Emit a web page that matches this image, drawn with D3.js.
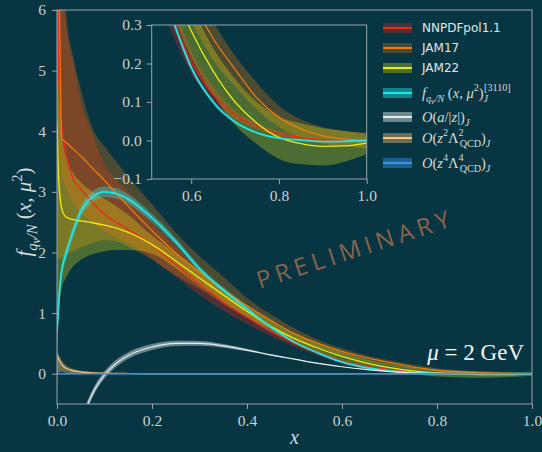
<!DOCTYPE html>
<html><head><meta charset="utf-8">
<script src="https://cdn.jsdelivr.net/npm/d3@7"></script>
<style>
html,body{margin:0;padding:0;background:#073642;}
svg{display:block}
</style></head><body>
<svg id="chart" width="542" height="452"></svg>
<script>
// ---- data: valence-quark distributions at mu = 2 GeV ----
const xGrid = [0, .003, .006, .01, .02, .035, .05, .075, .1, .125, .15, .2, .25, .3, .35, .4, .45, .5, .55, .6, .65, .7, .75, .8, .85, .9, .95, 1];

const nnpdfMid = [9, 5.1, 4.5, 4.1, 3.6, 3.2, 3.05, 2.82, 2.63, 2.5, 2.38, 2.12, 1.8, 1.48, 1.18, 0.93, 0.7, 0.5, 0.34, 0.205, 0.12, 0.066, 0.037, 0.018, 0.008, 0.002, 0, 0];
const nnpdfLo  = [5, 4.0, 3.6, 3.3, 3.05, 2.8, 2.65, 2.5, 2.35, 2.25, 2.15, 1.9, 1.6, 1.3, 1.04, 0.82, 0.62, 0.44, 0.295, 0.175, 0.1, 0.055, 0.03, 0.012, 0.004, -0.001, -0.002, 0];
const nnpdfHi  = [10, 8, 7.2, 6.5, 5.7, 5.1, 4.5, 3.95, 3.45, 3.2, 3.0, 2.5, 2.08, 1.7, 1.32, 1.03, 0.79, 0.57, 0.39, 0.235, 0.14, 0.078, 0.045, 0.024, 0.012, 0.005, 0.002, 0];

const jam17Mid = [9, 7.5, 5.5, 3.88, 3.81, 3.7, 3.59, 3.39, 3.19, 2.97, 2.76, 2.36, 1.99, 1.68, 1.38, 1.12, 0.88, 0.66, 0.5, 0.37, 0.265, 0.185, 0.11, 0.06, 0.03, 0.012, 0.004, 0];
const jam17Lo  = [1.9, 1.9, 1.9, 1.92, 1.97, 2.03, 2.08, 2.15, 2.2, 2.18, 2.1, 1.88, 1.62, 1.4, 1.15, 0.93, 0.74, 0.57, 0.43, 0.31, 0.21, 0.14, 0.08, 0.035, 0.008, -0.008, -0.015, -0.02];
const jam17Hi  = [12, 10, 9, 7.5, 5.9, 5.2, 4.7, 4.05, 3.75, 3.5, 3.25, 2.8, 2.33, 1.94, 1.6, 1.25, 0.98, 0.75, 0.56, 0.42, 0.31, 0.22, 0.15, 0.09, 0.055, 0.035, 0.025, 0.02];

const jam22Mid = [4.15, 3.3, 2.95, 2.72, 2.58, 2.54, 2.52, 2.49, 2.45, 2.4, 2.33, 2.13, 1.86, 1.58, 1.3, 1.03, 0.78, 0.58, 0.42, 0.285, 0.18, 0.1, 0.045, 0.008, -0.008, -0.015, -0.014, -0.007];
const jam22Lo  = [-0.6, 0.9, 1.2, 1.4, 1.6, 1.78, 1.88, 1.97, 2.02, 2.04, 2.04, 1.98, 1.74, 1.45, 1.18, 0.93, 0.69, 0.5, 0.35, 0.215, 0.12, 0.04, -0.01, -0.048, -0.062, -0.065, -0.055, -0.035];
const jam22Hi  = [7.8, 5.6, 4.65, 4.0, 3.55, 3.3, 3.16, 3.0, 2.88, 2.76, 2.62, 2.28, 1.98, 1.7, 1.42, 1.13, 0.87, 0.66, 0.49, 0.355, 0.24, 0.16, 0.1, 0.062, 0.045, 0.032, 0.025, 0.018];

const latMid = [0.7, 1.1, 1.43, 1.7, 2.0, 2.37, 2.67, 2.92, 3.0, 2.97, 2.88, 2.57, 2.18, 1.73, 1.38, 1.07, 0.77, 0.52, 0.34, 0.19, 0.1, 0.048, 0.02, 0.006, 0.001, -0.003, -0.002, 0];
const latLo  = [0.45, 0.92, 1.3, 1.58, 1.9, 2.28, 2.58, 2.83, 2.91, 2.89, 2.8, 2.5, 2.12, 1.68, 1.34, 1.04, 0.75, 0.505, 0.33, 0.183, 0.095, 0.045, 0.018, 0.005, 0, -0.004, -0.003, -0.001];
const latHi  = [0.95, 1.3, 1.56, 1.82, 2.1, 2.46, 2.76, 3.01, 3.09, 3.06, 2.96, 2.64, 2.24, 1.78, 1.42, 1.1, 0.79, 0.535, 0.35, 0.197, 0.105, 0.051, 0.022, 0.007, 0.002, -0.002, -0.001, 0.001];

// O(a/|z|) correction
const xA   = [0.05, 0.065, 0.08, 0.1, 0.12, 0.15, 0.2, 0.25, 0.3, 0.35, 0.4, 0.45, 0.5, 0.55, 0.6, 0.65, 0.7, 0.75, 0.8, 0.9, 1.0];
const aMid = [-0.85, -0.5, -0.25, -0.02, 0.14, 0.3, 0.44, 0.5, 0.5, 0.46, 0.39, 0.31, 0.24, 0.17, 0.115, 0.07, 0.035, 0.015, 0.005, 0, 0];
const aLo  = [-0.93, -0.57, -0.315, -0.08, 0.08, 0.245, 0.39, 0.455, 0.46, 0.43, 0.37, 0.298, 0.232, 0.165, 0.111, 0.067, 0.033, 0.014, 0.004, 0, 0];
const aHi  = [-0.77, -0.43, -0.185, 0.04, 0.2, 0.355, 0.49, 0.545, 0.54, 0.49, 0.41, 0.322, 0.248, 0.175, 0.119, 0.073, 0.037, 0.016, 0.006, 0, 0];

// O(z^2 Lambda^2) correction
const xZ2   = [0, 0.003, 0.006, 0.01, 0.015, 0.02, 0.03, 0.05, 0.075, 0.1, 0.15, 0.2, 0.3, 1.0];
const z2Mid = [0.3, 0.25, 0.2, 0.15, 0.11, 0.085, 0.055, 0.03, 0.015, 0.008, 0.003, 0.001, 0, 0];
const z2Lo  = [0.0, 0.02, 0.03, 0.03, 0.025, 0.02, 0.012, 0.006, 0.003, 0.001, 0, 0, 0, 0];
const z2Hi  = [0.36, 0.33, 0.28, 0.22, 0.17, 0.13, 0.09, 0.05, 0.027, 0.015, 0.006, 0.002, 0, 0];

// O(z^4 Lambda^4) correction
const xZ4   = [0, 1];
const z4Mid = [0, 0];
const z4Lo  = [-0.012, -0.012];
const z4Hi  = [0.012, 0.012];

const xTicks = [0, 0.2, 0.4, 0.6, 0.8, 1.0];
const yTicks = [0, 1, 2, 3, 4, 5, 6];
const insetXTicks = [0.6, 0.8, 1.0];
const insetYTicks = [-0.1, 0, 0.1, 0.2, 0.3];

// ---- styling ----
const BG = "#073642";
const SPINE = "#9aa4a7";
const TICKTXT = "#c9d1d3";
const SERIF = "'Liberation Serif','DejaVu Serif',serif";

const series = [
  {xs: xGrid, mid: nnpdfMid, lo: nnpdfLo, hi: nnpdfHi, color: "#f0281a", alpha: 0.3, lw: 1.3, inset: true},
  {xs: xGrid, mid: jam17Mid, lo: jam17Lo, hi: jam17Hi, color: "#ec7c0e", alpha: 0.3, lw: 1.3, inset: true},
  {xs: xGrid, mid: jam22Mid, lo: jam22Lo, hi: jam22Hi, color: "#ecec10", alpha: 0.3, lw: 1.3, inset: true},
  {xs: xGrid, mid: latMid, lo: latLo, hi: latHi, color: "#22e4e4", alpha: 0.4, lw: 1.8, inset: true},
  {xs: xA, mid: aMid, lo: aLo, hi: aHi, color: "#e6ecee", alpha: 0.45, lw: 1.2, inset: false},
  {xs: xZ2, mid: z2Mid, lo: z2Lo, hi: z2Hi, color: "#ffc37a", alpha: 0.4, lw: 1.2, inset: false},
  {xs: xZ4, mid: z4Mid, lo: z4Lo, hi: z4Hi, color: "#3a92e6", alpha: 0.4, lw: 1.6, inset: false}
];

const svg = d3.select("#chart");
svg.append("rect").attr("width", 542).attr("height", 452).attr("fill", BG);

function drawPanel(g, xs, ys, clipId, list) {
  const [x0, x1] = xs.range(), [y0, y1] = ys.range();
  svg.append("defs").append("clipPath").attr("id", clipId)
    .append("rect").attr("x", x0).attr("y", y1).attr("width", x1 - x0).attr("height", y0 - y1);
  const body = g.append("g").attr("clip-path", `url(#${clipId})`);
  list.forEach(s => {
    const area = d3.area()
      .x((d, i) => xs(s.xs[i])).y0((d, i) => ys(s.lo[i])).y1((d, i) => ys(s.hi[i]))
      .curve(d3.curveMonotoneX);
    body.append("path").attr("d", area(s.mid)).attr("fill", s.color).attr("fill-opacity", s.alpha);
  });
  list.forEach(s => {
    const line = d3.line().x((d, i) => xs(s.xs[i])).y(d => ys(d)).curve(d3.curveMonotoneX);
    body.append("path").attr("d", line(s.mid)).attr("fill", "none")
      .attr("stroke", s.color).attr("stroke-width", s.lw);
  });
}

function styleAxis(sel, size) {
  sel.attr("font-family", null).attr("font-size", null);
  sel.select(".domain").remove();
  sel.selectAll(".tick line").attr("stroke", SPINE).attr("stroke-width", 1);
  sel.selectAll(".tick text").attr("fill", TICKTXT)
    .style("font-family", SERIF).style("font-size", size + "px");
}

function frame(g, xs, ys) {
  const [x0, x1] = xs.range(), [y0, y1] = ys.range();
  g.append("rect").attr("x", x0).attr("y", y1).attr("width", x1 - x0).attr("height", y0 - y1)
    .attr("fill", "none").attr("stroke", SPINE).attr("stroke-width", 1);
}

// ---- main panel ----
const x = d3.scaleLinear().domain([0, 1]).range([57, 532]);
const y = d3.scaleLinear().domain([-0.5, 6]).range([404, 10]);
const main = svg.append("g");
drawPanel(main, x, y, "clipMain", series);
main.append("g").attr("transform", "translate(0,404)")
  .call(d3.axisBottom(x).tickValues(xTicks).tickFormat(d3.format(".1f")).tickSize(5).tickPadding(6))
  .call(s => styleAxis(s, 15.5));
main.append("g").attr("transform", "translate(57,0)")
  .call(d3.axisLeft(y).tickValues(yTicks).tickFormat(d3.format("d")).tickSize(5).tickPadding(6))
  .call(s => styleAxis(s, 15.5));
frame(main, x, y);

// ---- inset panel (large-x region) ----
const xi = d3.scaleLinear().domain([0.51, 1.0]).range([151.7, 366.7]);
const yi = d3.scaleLinear().domain([-0.1, 0.3]).range([179, 25]);
const inset = svg.append("g");
inset.append("rect").attr("x", 151.7).attr("y", 25).attr("width", 215).attr("height", 154).attr("fill", BG);
drawPanel(inset, xi, yi, "clipInset", series.filter(s => s.inset));
inset.append("g").attr("transform", "translate(0,179)")
  .call(d3.axisBottom(xi).tickValues(insetXTicks).tickFormat(d3.format(".1f")).tickSize(5).tickPadding(6))
  .call(s => styleAxis(s, 15.5));
inset.append("g").attr("transform", "translate(151.7,0)")
  .call(d3.axisLeft(yi).tickValues(insetYTicks).tickFormat(d3.format(".1f")).tickSize(5).tickPadding(5))
  .call(s => styleAxis(s, 15.5));
frame(inset, xi, yi);

// ---- math-like text helper ----
// parts: [text, italic, level, dx]; level 0 base, 1 sub, 2 subsub, -1 sup
function mathText(parent, px, py, parts, size, fill, anchor) {
  const t = parent.append("text").attr("x", px).attr("y", py)
    .attr("font-family", SERIF).attr("font-size", size).attr("fill", fill)
    .attr("text-anchor", anchor || "start");
  const shift = {0: 0, 1: 0.28, 2: 0.45, "-1": -0.42};
  const scale = {0: 1, 1: 0.7, 2: 0.55, "-1": 0.7};
  let cur = 0;
  parts.forEach(([txt, it, lvl, dx]) => {
    const target = shift[lvl] * size;
    const ts = t.append("tspan").text(txt)
      .attr("dy", (target - cur).toFixed(2))
      .attr("font-size", (scale[lvl] * size).toFixed(2))
      .attr("font-style", it ? "italic" : "normal");
    if (dx) ts.attr("dx", dx);
    cur = target;
  });
  return t;
}

// ---- legend ----
const legendRows = [
  {y: 28, color: "#f0281a", alpha: 0.3, lw: 2, label: "NNPDFpol1.1"},
  {y: 48, color: "#ec7c0e", alpha: 0.3, lw: 2, label: "JAM17"},
  {y: 68, color: "#ecec10", alpha: 0.3, lw: 2, label: "JAM22"},
  {y: 93, color: "#22e4e4", alpha: 0.45, lw: 2.2, math: [["f", 1, 0], ["q", 1, 1], ["v", 1, 2], ["/N", 1, 1], [" (", 0, 0], ["x", 1, 0], [", ", 0, 0], ["μ", 1, 0], ["2", 0, -1], [")", 0, 0], ["J", 1, 1], ["[3110]", 0, -1, -4]]},
  {y: 117, color: "#e6ecee", alpha: 0.45, lw: 2, math: [["O", 1, 0], ["(", 0, 0], ["a", 1, 0], ["/|", 0, 0], ["z", 1, 0], ["|)", 0, 0], ["J", 1, 1]]},
  {y: 138, color: "#ffc37a", alpha: 0.4, lw: 2, math: [["O", 1, 0], ["(", 0, 0], ["z", 1, 0], ["2", 0, -1], ["Λ", 0, 0], ["2", 0, -1], ["QCD", 0, 1, -4], [")", 0, 0], ["J", 1, 1]]},
  {y: 163, color: "#3a92e6", alpha: 0.45, lw: 2.2, math: [["O", 1, 0], ["(", 0, 0], ["z", 1, 0], ["4", 0, -1], ["Λ", 0, 0], ["4", 0, -1], ["QCD", 0, 1, -4], [")", 0, 0], ["J", 1, 1]]}
];
const legend = svg.append("g");
legendRows.forEach(r => {
  legend.append("rect").attr("x", 383).attr("y", r.y - 5).attr("width", 29).attr("height", 10)
    .attr("fill", r.color).attr("fill-opacity", r.alpha);
  legend.append("line").attr("x1", 383).attr("x2", 412).attr("y1", r.y).attr("y2", r.y)
    .attr("stroke", r.color).attr("stroke-width", r.lw);
  if (r.label) {
    legend.append("text").attr("x", 422).attr("y", r.y + 4.3).text(r.label)
      .attr("font-family", "'DejaVu Sans',sans-serif").attr("font-size", 12).attr("fill", "#e1e7e7");
  } else {
    mathText(legend, 422, r.y + 4.5, r.math, 14.5, "#d5dcdc");
  }
});

// ---- axis titles and annotations ----
mathText(svg, 294.5, 444, [["x", 1, 0]], 20, "#d5dcdc", "middle");
const ylab = svg.append("g").attr("transform", "translate(31,212) rotate(-90)");
mathText(ylab, 0, 0, [["f", 1, 0], ["q", 1, 1], ["v", 1, 2], ["/N", 1, 1], [" (", 0, 0], ["x", 1, 0], [", ", 0, 0], ["μ", 1, 0], ["2", 0, -1], [")", 0, 0]], 21, "#d5dcdc", "middle");

mathText(svg, 524, 360, [["μ", 1, 0], [" = 2 GeV", 0, 0]], 23, "#f2f5f5", "end");

svg.append("text").attr("transform", "translate(358,257) rotate(-18)")
  .attr("text-anchor", "middle").attr("font-family", "'Open Sans',sans-serif")
  .attr("font-size", 24).attr("letter-spacing", 5).attr("fill", "#8a634e")
  .text("PRELIMINARY");
</script>
</body></html>
